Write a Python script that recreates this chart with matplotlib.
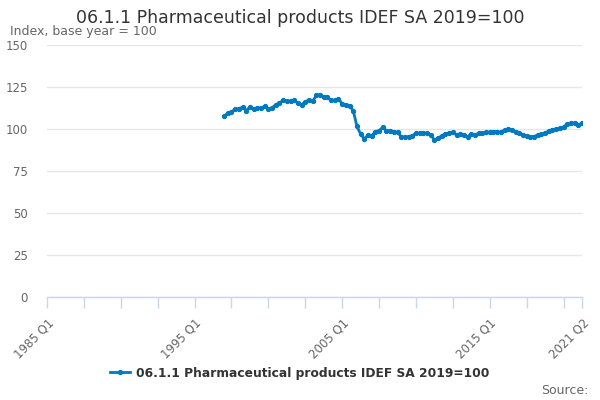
import matplotlib
matplotlib.use("Agg")
import matplotlib.pyplot as plt
import numpy as np

title = "06.1.1 Pharmaceutical products IDEF SA 2019=100"
subtitle = "Index, base year = 100"
series_name = "06.1.1 Pharmaceutical products IDEF SA 2019=100"

start_year, start_q = 1997, 1
values = [
    107.5, 109.5, 110, 112,      # 1997
    112, 113, 111, 113,          # 1998
    112, 112.5, 112.5, 113.5,    # 1999
    112, 112.5, 114.5, 115.5,    # 2000
    117, 116.5, 116.5, 117,      # 2001
    115.5, 114.5, 116, 117.5,    # 2002
    116.5, 120, 120.5, 119,      # 2003
    119, 117, 117, 118,          # 2004
    115, 114.5, 113.5, 111,      # 2005
    101.5, 97, 94, 96.5,         # 2006
    96, 98.5, 99, 101,           # 2007
    99, 99, 98.5, 98,            # 2008
    95.5, 95, 95.5, 96,          # 2009
    97.5, 97.5, 97.5, 97.5,      # 2010
    96.5, 93.5, 94.5, 96,        # 2011
    97, 97.5, 98, 96.5,          # 2012
    97, 96.5, 95.5, 97,          # 2013
    96.5, 97.5, 97.5, 98,        # 2014
    98, 98.5, 98.5, 98,          # 2015
    99.5, 100, 99.5, 98.5,       # 2016
    97.5, 96.5, 96, 95.5,        # 2017
    95.5, 96.5, 97, 97.5,        # 2018
    99, 99.5, 100, 100.5,        # 2019
    101, 103, 103.5, 103.5,      # 2020
    102.5, 103.5,                # 2021
]

axis_start = (1985, 1)
axis_end = (2021, 2)
label_quarters = ["1985 Q1", "1995 Q1", "2005 Q1", "2015 Q1", "2021 Q2"]
y_ticks = [0, 25, 50, 75, 100, 125, 150]


def qindex(y, q):
    return (y - axis_start[0]) * 4 + (q - axis_start[1])


def parse(lbl):
    y, q = lbl.split(" Q")
    return qindex(int(y), int(q))


x0 = qindex(start_year, start_q)
x = np.arange(x0, x0 + len(values))
xmax = qindex(*axis_end)

fig = plt.figure(figsize=(6, 4), dpi=100)
ax = fig.add_axes([47 / 600, 1 - 297 / 400, (582 - 47) / 600, (297 - 45) / 400])

ax.plot(x, values, color="#0079c1", lw=2, marker="o", ms=2.8, zorder=3,
        label=series_name)

ax.set_xlim(0, xmax)
ax.set_ylim(0, 150)
ax.set_yticks(y_ticks)
ax.set_yticklabels([str(v) for v in y_ticks], color="#666666", fontsize=8.5)
ax.tick_params(axis="y", length=0, pad=14)
ax.yaxis.grid(True, color="#e6e6e6", lw=1)
ax.set_axisbelow(True)

minor = list(range(0, xmax + 1, 10)) + [xmax]
ax.set_xticks(minor, minor=True)
ax.set_xticks([parse(l) for l in label_quarters])
ax.set_xticklabels(label_quarters, rotation=45, ha="right", rotation_mode="anchor",
                   color="#666666", fontsize=8.5)
ax.tick_params(axis="x", which="both", length=8, color="#ccd6eb", width=1)
ax.tick_params(axis="x", which="major", pad=6)

for s in ["top", "right", "left"]:
    ax.spines[s].set_visible(False)
ax.spines["bottom"].set_color("#ccd6eb")
ax.spines["bottom"].set_linewidth(1)

fig.text(0.5, 0.955, title, ha="center", va="center", fontsize=12.5, color="#333333")
fig.text(10 / 600, 1 - 32 / 400, subtitle, ha="left", va="center", fontsize=9, color="#666666")
fig.text(588 / 600, 1 - 390 / 400, "Source:", ha="right", va="center", fontsize=9, color="#666666")

leg = fig.legend(loc="center", bbox_to_anchor=(0.5, 1 - 373 / 400), frameon=False,
                 prop={"weight": "bold", "size": 8.8}, handlelength=1.6, handletextpad=0.5)
for t in leg.get_texts():
    t.set_color("#333333")

fig.savefig("out.png", dpi=100)
